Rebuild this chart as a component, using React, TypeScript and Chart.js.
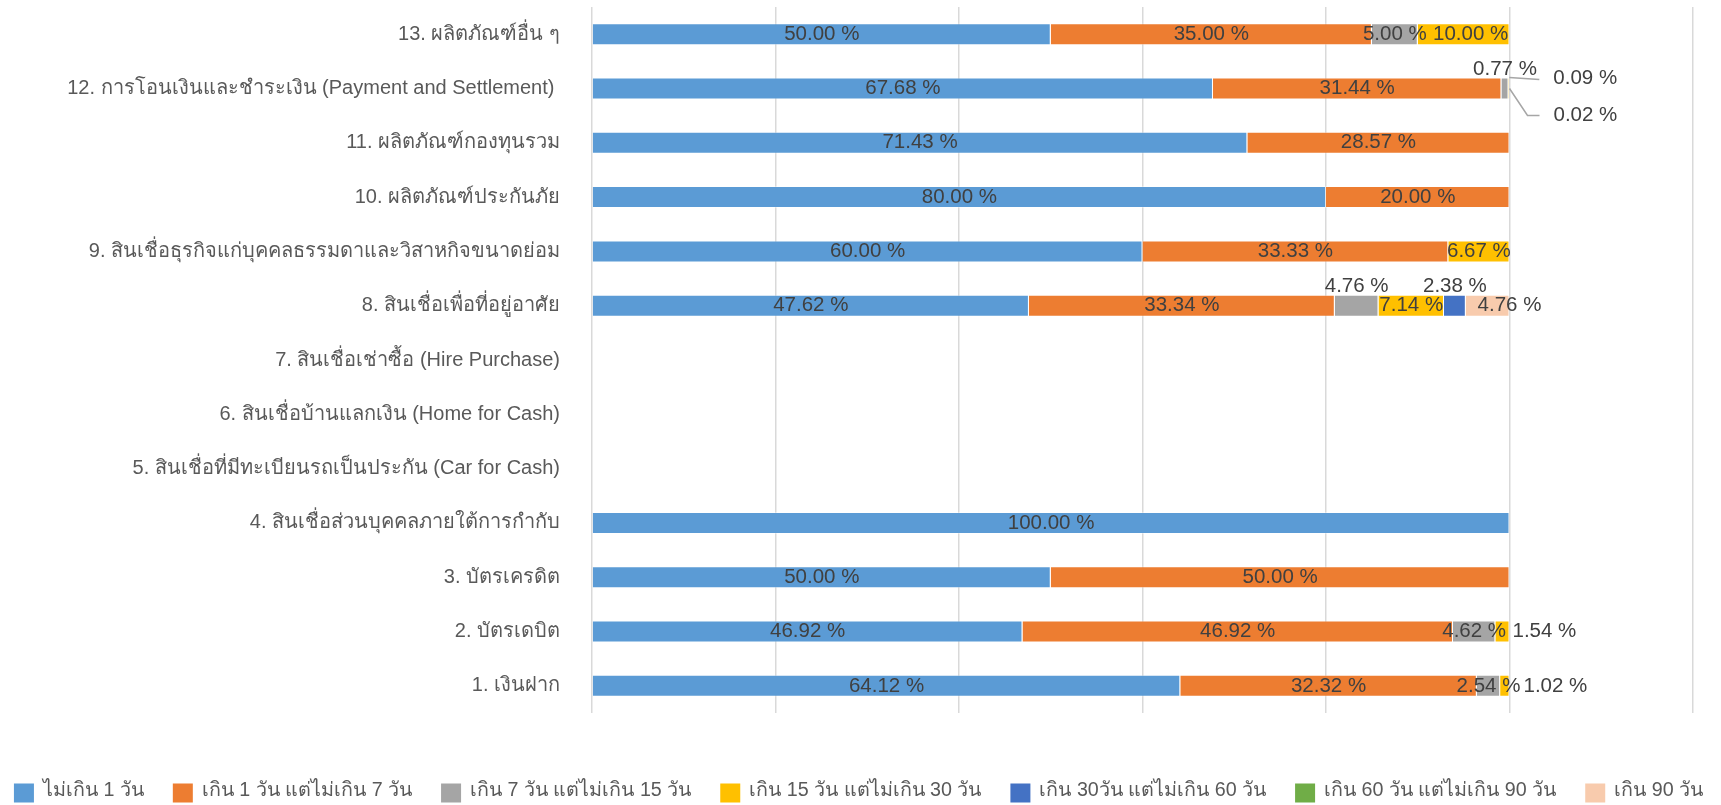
import React, { useEffect, useRef } from "react";
import { Chart, registerables } from "chart.js";

Chart.register(...registerables);

const FONT = '"Liberation Sans", Arial, sans-serif';

const categories = [
  "13. ผลิตภัณฑ์อื่น ๆ",
  "12. การโอนเงินและชำระเงิน (Payment and Settlement) ",
  "11. ผลิตภัณฑ์กองทุนรวม",
  "10. ผลิตภัณฑ์ประกันภัย",
  "9. สินเชื่อธุรกิจแก่บุคคลธรรมดาและวิสาหกิจขนาดย่อม",
  "8. สินเชื่อเพื่อที่อยู่อาศัย",
  "7. สินเชื่อเช่าซื้อ (Hire Purchase)",
  "6. สินเชื่อบ้านแลกเงิน (Home for Cash)",
  "5. สินเชื่อที่มีทะเบียนรถเป็นประกัน (Car for Cash)",
  "4. สินเชื่อส่วนบุคคลภายใต้การกำกับ",
  "3. บัตรเครดิต",
  "2. บัตรเดบิต",
  "1. เงินฝาก",
];

const seriesLabels = [
  "ไม่เกิน 1 วัน",
  "เกิน 1 วัน แต่ไม่เกิน 7 วัน",
  "เกิน 7 วัน แต่ไม่เกิน 15 วัน",
  "เกิน 15 วัน แต่ไม่เกิน 30 วัน",
  "เกิน 30วัน แต่ไม่เกิน 60 วัน",
  "เกิน 60 วัน แต่ไม่เกิน 90 วัน",
  "เกิน 90 วัน",
];

const seriesColors = ["#5B9BD5", "#ED7D31", "#A5A5A5", "#FFC000", "#4472C4", "#70AD47", "#F8CBAD"];

const within1Day = [50.0, 67.68, 71.43, 80.0, 60.0, 47.62, null, null, null, 100.0, 50.0, 46.92, 64.12];
const days1to7 = [35.0, 31.44, 28.57, 20.0, 33.33, 33.34, null, null, null, 0, 50.0, 46.92, 32.32];
const days7to15 = [5.0, 0.77, 0, 0, 0, 4.76, null, null, null, 0, 0, 4.62, 2.54];
const days15to30 = [10.0, 0.09, 0, 0, 6.67, 7.14, null, null, null, 0, 0, 1.54, 1.02];
const days30to60 = [0, 0.02, 0, 0, 0, 2.38, null, null, null, 0, 0, 0, 0];
const days60to90 = [0, 0, 0, 0, 0, 0, null, null, null, 0, 0, 0, 0];
const over90 = [0, 0, 0, 0, 0, 4.76, null, null, null, 0, 0, 0, 0];

const seriesValues = [within1Day, days1to7, days7to15, days15to30, days30to60, days60to90, over90];

const xTicks = [0, 20, 40, 60, 80, 100, 120];

type Placement = {
  mode: "center" | "above" | "end" | "right" | "callout";
  dx?: number;
  dy?: number;
  path?: [number, number][];
};

// label placement overrides: key = "categoryIndex:seriesIndex"
const labelPlacements: Record<string, Placement> = {
  "0:3": { mode: "center", dx: 7 },
  "1:2": { mode: "above" },
  "1:3": { mode: "callout", dy: -10, path: [[0, -11], [30, -9]] },
  "1:4": { mode: "callout", dy: 27, path: [[0, 0], [18, 27], [30, 27]] },
  "5:2": { mode: "above" },
  "5:4": { mode: "above" },
  "5:6": { mode: "end" },
  "11:3": { mode: "right", dx: 3 },
  "12:3": { mode: "right", dx: 14 },
};

const dataLabelPlugin = {
  id: "barValueLabels",
  afterDatasetsDraw(chart: any) {
    const ctx = chart.ctx;
    ctx.save();
    ctx.font = `20.5px ${FONT}`;
    ctx.fillStyle = "#404040";
    ctx.textBaseline = "middle";
    chart.data.datasets.forEach((ds: any, di: number) => {
      const meta = chart.getDatasetMeta(di);
      meta.data.forEach((el: any, ci: number) => {
        const v = ds.data[ci];
        if (v === null || v === undefined || v === 0) return;
        const text = `${v.toFixed(2)} %`;
        const { x, y, base } = el.getProps(["x", "y", "base"], true);
        const xStart = Math.min(x, base);
        const xEnd = Math.max(x, base);
        const p: Placement = labelPlacements[`${ci}:${di}`] || { mode: "center" };
        const dx = p.dx || 0;
        ctx.fillStyle = "#404040";
        if (p.mode === "center") {
          ctx.textAlign = "center";
          ctx.fillText(text, (xStart + xEnd) / 2 + dx, y);
        } else if (p.mode === "above") {
          ctx.textAlign = "center";
          ctx.fillText(text, (xStart + xEnd) / 2 + dx, y - 19);
        } else if (p.mode === "end") {
          ctx.textAlign = "center";
          ctx.fillText(text, xEnd + dx, y);
        } else if (p.mode === "right") {
          ctx.textAlign = "left";
          ctx.fillText(text, xEnd + dx, y);
        } else if (p.mode === "callout") {
          const pts = p.path || [];
          ctx.beginPath();
          ctx.strokeStyle = "#A6A6A6";
          ctx.lineWidth = 1.5;
          pts.forEach((pt, k) => {
            if (k === 0) ctx.moveTo(xEnd + pt[0], y + pt[1]);
            else ctx.lineTo(xEnd + pt[0], y + pt[1]);
          });
          ctx.stroke();
          ctx.textAlign = "left";
          ctx.fillText(text, xEnd + 44, y + (p.dy || 0));
        }
      });
    });
    ctx.restore();
  },
};

const legendPlugin = {
  id: "bottomLegend",
  afterDraw(chart: any) {
    const ctx = chart.ctx;
    ctx.save();
    ctx.font = `19.7px ${FONT}`;
    ctx.textBaseline = "middle";
    ctx.textAlign = "left";
    const boxW = 20;
    const boxH = 19;
    const boxGap = 9;
    const itemGap = 29;
    const items = chart.data.datasets.map((ds: any) => ({
      text: ds.label as string,
      color: ds.backgroundColor as string,
      w: ctx.measureText(ds.label).width,
    }));
    const total =
      items.reduce((s: number, it: any) => s + boxW + boxGap + it.w, 0) + itemGap * (items.length - 1);
    let x = (chart.width - total) / 2 - 2;
    const yMid = chart.height - 12;
    items.forEach((it: any) => {
      ctx.fillStyle = it.color;
      ctx.fillRect(x, yMid - boxH / 2, boxW, boxH);
      ctx.fillStyle = "#595959";
      ctx.fillText(it.text, x + boxW + boxGap, yMid - 2);
      x += boxW + boxGap + it.w + itemGap;
    });
    ctx.restore();
  },
};

export default function App() {
  const canvasRef = useRef<HTMLCanvasElement | null>(null);

  useEffect(() => {
    if (!canvasRef.current) return;
    const chart = new Chart(canvasRef.current, {
      type: "bar",
      data: {
        labels: categories,
        datasets: seriesLabels.map((label, i) => ({
          label,
          data: seriesValues[i],
          backgroundColor: seriesColors[i],
          borderColor: "rgba(255,255,255,0.35)",
          borderWidth: 1,
          barPercentage: 0.405,
          categoryPercentage: 1,
        })),
      },
      options: {
        indexAxis: "y",
        animation: false,
        responsive: true,
        maintainAspectRatio: false,
        layout: { padding: { top: 7, right: 28, bottom: 92, left: 0 } },
        plugins: {
          legend: { display: false },
          tooltip: { enabled: false },
        },
        scales: {
          x: {
            stacked: true,
            min: xTicks[0],
            max: xTicks[xTicks.length - 1],
            afterBuildTicks: (scale: any) => {
              scale.ticks = xTicks.map((v) => ({ value: v }));
            },
            ticks: { display: false },
            grid: { color: "#D9D9D9", lineWidth: 1.5, drawTicks: false },
            border: { display: false },
            afterFit: (scale: any) => {
              scale.height = 0;
              scale.paddingLeft = 0;
              scale.paddingRight = 0;
            },
          },
          y: {
            stacked: true,
            grid: { display: false, drawTicks: false },
            border: { display: false },
            ticks: {
              autoSkip: false,
              color: "#595959",
              padding: 32,
              font: { family: FONT, size: 20 },
            },
            afterFit: (scale: any) => {
              scale.width = 592;
              scale.paddingTop = 0;
              scale.paddingBottom = 0;
            },
          },
        },
      },
      plugins: [dataLabelPlugin, legendPlugin],
    });
    return () => chart.destroy();
  }, []);

  return (
    <div style={{ position: "fixed", left: 0, top: 0, width: 1721, height: 805, background: "#fff" }}>
      <canvas ref={canvasRef} />
    </div>
  );
}
